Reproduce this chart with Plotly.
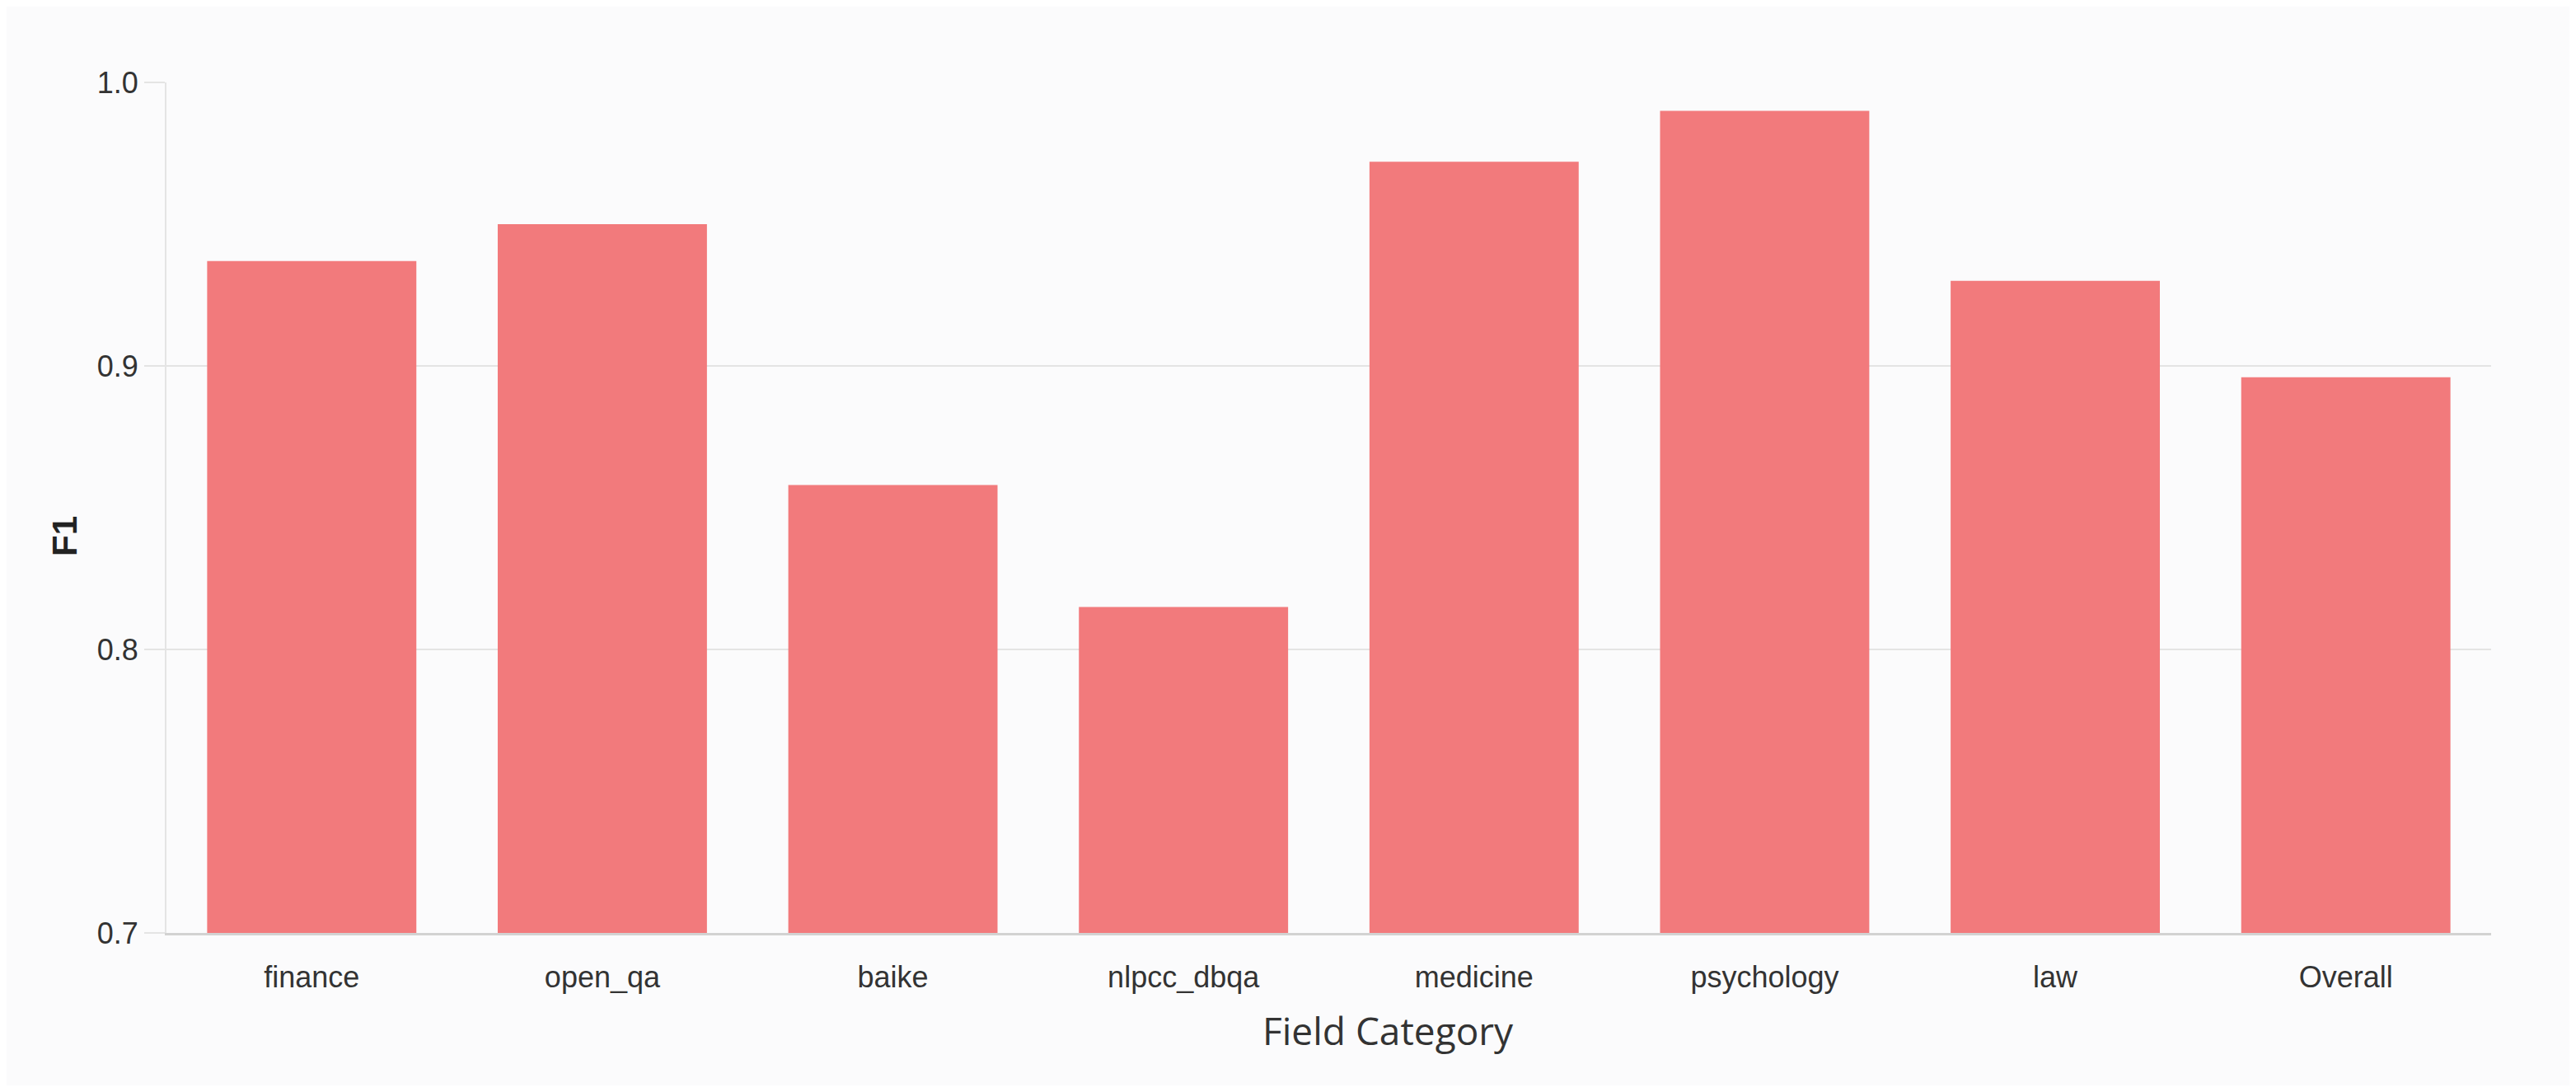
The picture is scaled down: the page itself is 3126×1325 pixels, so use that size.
import plotly.graph_objects as go

# F1 score per field category
categories = ["finance", "open_qa", "baike", "nlpcc_dbqa", "medicine",
              "psychology", "law", "Overall"]
f1_scores = [0.937, 0.950, 0.858, 0.815, 0.972, 0.990, 0.930, 0.896]
y_ticks = [0.7, 0.8, 0.9, 1.0]
y_tick_text = ["0.7", "0.8", "0.9", "1.0"]

bar_color = "#F27A7C"
grid_color = "#E4E4E4"
bg_color = "#FBFBFC"
tick_font = dict(family="Liberation Sans, Arial", size=36, color="#333333")

fig = go.Figure()
fig.add_trace(
    go.Bar(
        x=categories,
        y=f1_scores,
        marker=dict(color=bar_color, line=dict(width=0)),
        showlegend=False,
    )
)

# page has an 8px body margin, so the figure is a bit smaller than the window
fig.update_layout(
    width=3110,
    height=1309,
    margin=dict(l=194, r=95, t=92, b=185),
    paper_bgcolor=bg_color,
    plot_bgcolor=bg_color,
    bargap=0.28,
)

fig.update_xaxes(
    tickfont=tick_font,
    ticks="outside",
    ticklen=20,
    tickcolor="rgba(0,0,0,0)",
    showline=True,
    linecolor="#D2D2D2",
    linewidth=3,
    showgrid=False,
)
fig.update_yaxes(
    range=[0.7, 1.0],
    tickvals=y_ticks,
    ticktext=y_tick_text,
    tickfont=tick_font,
    ticks="outside",
    ticklen=25,
    tickwidth=2,
    tickcolor=grid_color,
    showgrid=True,
    gridcolor=grid_color,
    gridwidth=2,
    zeroline=False,
    showline=True,
    linecolor=grid_color,
    linewidth=2,
)

# axis titles as annotations: both sit slightly off-centre in the original
fig.add_annotation(
    text="<b>F1</b>",
    xref="paper",
    yref="paper",
    x=-0.044,
    y=0.467,
    xanchor="center",
    yanchor="middle",
    textangle=-90,
    showarrow=False,
    font=dict(family="Liberation Sans, Arial", size=42, color="#222222"),
)
fig.add_annotation(
    text="Field Category",
    xref="paper",
    yref="paper",
    x=0.5257,
    y=-0.1143,
    xanchor="center",
    yanchor="middle",
    showarrow=False,
    font=dict(family="Open Sans", size=46, color="#333333"),
)

fig.write_html("out.html")
